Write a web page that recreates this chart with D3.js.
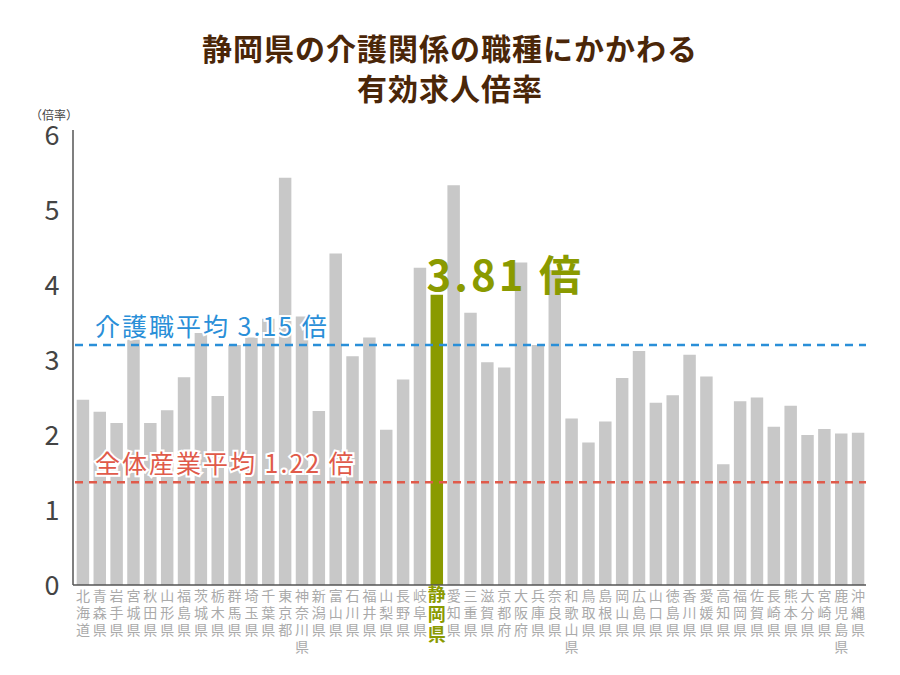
<!DOCTYPE html>
<html><head><meta charset="utf-8">
<script src="https://cdn.jsdelivr.net/npm/d3@7"></script>
<style>body{margin:0;background:#fff}svg{font-family:"Noto Sans CJK JP",sans-serif}</style>
</head><body><div id="chart"></div>
<script>
const prefectures = ["北海道","青森県","岩手県","宮城県","秋田県","山形県","福島県","茨城県","栃木県","群馬県","埼玉県","千葉県","東京都","神奈川県","新潟県","富山県","石川県","福井県","山梨県","長野県","岐阜県","静岡県","愛知県","三重県","滋賀県","京都府","大阪府","兵庫県","奈良県","和歌山県","鳥取県","島根県","岡山県","広島県","山口県","徳島県","香川県","愛媛県","高知県","福岡県","佐賀県","長崎県","熊本県","大分県","宮崎県","鹿児島県","沖縄県"]
const ratios = [2.47,2.31,2.16,3.27,2.16,2.33,2.77,3.36,2.52,3.2,3.3,3.55,5.43,3.58,2.32,4.42,3.05,3.3,2.07,2.74,4.23,3.87,5.33,3.63,2.97,2.9,4.3,3.2,4.2,2.22,1.9,2.18,2.76,3.12,2.43,2.53,3.07,2.78,1.61,2.45,2.5,2.11,2.39,2.0,2.08,2.02,2.03]
const yTicks = [0,1,2,3,4,5,6]
const avgLines = [
    {label: "介護職平均 3.15 倍", value: 3.2, color: "#2a8fd8"},
    {label: "全体産業平均 1.22 倍", value: 1.37, color: "#e05a4a"}
]
const highlight = "静岡県"

const svg = d3.select("#chart").append("svg").attr("width", 900).attr("height", 675)
const x = d3.scaleBand().domain(prefectures).range([75, 866]).paddingInner(0.26).paddingOuter(0.1)
const y = d3.scaleLinear().domain([0, 6]).range([585, 135])

svg.append("text").attr("x", 450).attr("y", 60).attr("text-anchor", "middle").attr("letter-spacing", 1)
    .attr("font-size", 30).attr("font-weight", "bold").attr("fill", "#4a2608").text("静岡県の介護関係の職種にかかわる")
svg.append("text").attr("x", 450).attr("y", 100).attr("text-anchor", "middle").attr("letter-spacing", 1)
    .attr("font-size", 30).attr("font-weight", "bold").attr("fill", "#4a2608").text("有効求人倍率")
svg.append("text").attr("x", 30).attr("y", 120).attr("font-size", 12).attr("fill", "#444").text("（倍率）")

svg.append("g").selectAll("text").data(yTicks).join("text")
    .attr("x", 52).attr("y", d => y(d) + 10).attr("text-anchor", "middle")
    .attr("font-size", 27).attr("fill", "#444").text(d => d)

svg.append("g").selectAll("rect").data(prefectures).join("rect")
    .attr("x", d => x(d)).attr("width", x.bandwidth())
    .attr("y", (d, i) => y(ratios[i])).attr("height", (d, i) => y(0) - y(ratios[i]))
    .attr("fill", d => d === highlight ? "#8a9a00" : "#c8c8c8")

svg.append("line").attr("x1", 73).attr("x2", 73).attr("y1", 130).attr("y2", 585).attr("stroke", "#555").attr("stroke-width", 1.5)
svg.append("line").attr("x1", 73).attr("x2", 866).attr("y1", 585).attr("y2", 585).attr("stroke", "#555").attr("stroke-width", 1.5)

avgLines.forEach(a => {
    svg.append("line").attr("x1", 75).attr("x2", 866).attr("y1", y(a.value)).attr("y2", y(a.value))
        .attr("stroke", a.color).attr("stroke-width", 2.5).attr("stroke-dasharray", "8,6")
    svg.append("text").attr("x", 95).attr("y", y(a.value) - 9).attr("font-size", 25).attr("letter-spacing", 2)
        .attr("fill", a.color).attr("stroke", "#fff").attr("stroke-width", 4).attr("paint-order", "stroke").text(a.label)
})

const hi = prefectures.indexOf(highlight)
svg.append("text").attr("x", x(highlight) - 4).attr("y", y(ratios[hi]) - 4).attr("letter-spacing", 3)
    .attr("font-size", 42).attr("font-weight", "bold").attr("fill", "#8a9a00").text("3.81 倍")

prefectures.forEach(p => {
    const isHi = p === highlight
    svg.append("g").selectAll("text").data(p.split("")).join("text")
        .attr("x", x(p) + x.bandwidth() / 2).attr("y", (d, i) => 601 + i * (isHi ? 20 : 17))
        .attr("text-anchor", "middle").attr("font-size", isHi ? 18 : 14)
        .attr("font-weight", isHi ? "bold" : "normal")
        .attr("fill", isHi ? "#8a9a00" : "#aaa").text(d => d)
})
</script></body></html>
